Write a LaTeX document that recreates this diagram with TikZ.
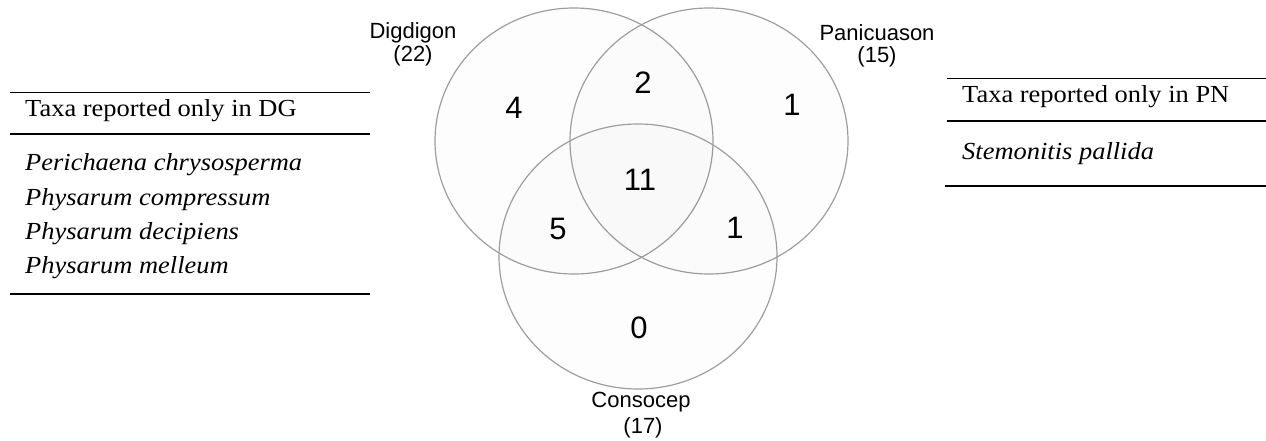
\documentclass[tikz,border=0pt]{standalone}
\usepackage{fontspec}
\newfontfamily\tnr[FakeStretch=1.08]{Liberation Serif}
\newfontfamily\arialf{Liberation Sans}
\begin{document}
\begin{tikzpicture}[x=1pt,y=-1pt,
  venn/.style={draw=black!38,line width=1.2pt,fill=black,fill opacity=0.008},
  num/.style={font=\arialf\fontsize{31}{34}\selectfont,inner sep=0pt},
  setlab/.style={font=\arialf\fontsize{22}{22}\selectfont,inner sep=0pt,align=center},
  rule/.style={line width=1.5pt,black},
  thead/.style={font=\tnr\fontsize{24.5}{26}\selectfont,anchor=base west,inner sep=0pt},
  titem/.style={font=\tnr\itshape\fontsize{24.5}{26}\selectfont,anchor=base west,inner sep=0pt}]
\useasboundingbox (0,0) rectangle (1266,441);
% circles
\draw[venn] (574,141) ellipse [x radius=139,y radius=133];
\draw[venn] (709,141) ellipse [x radius=139,y radius=133];
\draw[venn] (638,256.5) ellipse [x radius=139,y radius=132.5];
% numbers
\node[num] (n4) at (514,108) {4};
\node[num] (n2) at (643,83) {2};
\node[num] (n1a) at (792,105) {1};
\node[num] (n11) at (640,180) {11};
\node[num] (n5) at (558,229) {5};
\node[num] (n1b) at (735,228) {1};
\node[num] (n0) at (639,328) {0};
% set labels
\node[setlab] (dg) at (413,33) {Digdigon};
\node[setlab] (dgn) at (413,56) {(22)};
\node[setlab] (pn) at (877,33) {Panicuason};
\node[setlab] (pnn) at (877,57) {(15)};
\node[setlab] (cs) at (641,402) {Consocep};
\node[setlab] (csn) at (643,428) {(17)};
% left table
\coordinate (l1a) at (10,92.5); \coordinate (l1b) at (370,92.5);
\coordinate (l2a) at (10,134); \coordinate (l2b) at (370,134);
\coordinate (l3a) at (10,294); \coordinate (l3b) at (370,294);
\draw[rule] (l1a) -- (l1b);
\draw[rule] (l2a) -- (l2b);
\draw[rule] (l3a) -- (l3b);
\node[thead] (lh) at (25,117) {Taxa reported only in DG};
\node[titem] (li1) at (25,170.5) {Perichaena chrysosperma};
\node[titem] (li2) at (25,205) {Physarum compressum};
\node[titem] (li3) at (25,239) {Physarum decipiens};
\node[titem] (li4) at (25,273) {Physarum melleum};
% right table
\coordinate (r1a) at (947,78.5); \coordinate (r1b) at (1266,78.5);
\coordinate (r2a) at (947,121); \coordinate (r2b) at (1266,121);
\coordinate (r3a) at (945,186); \coordinate (r3b) at (1266,186);
\draw[rule] (r1a) -- (r1b);
\draw[rule] (r2a) -- (r2b);
\draw[rule] (r3a) -- (r3b);
\node[thead] (rh) at (962,103) {Taxa reported only in PN};
\node[titem] (ri1) at (962,160) {Stemonitis pallida};
\end{tikzpicture}
\end{document}
